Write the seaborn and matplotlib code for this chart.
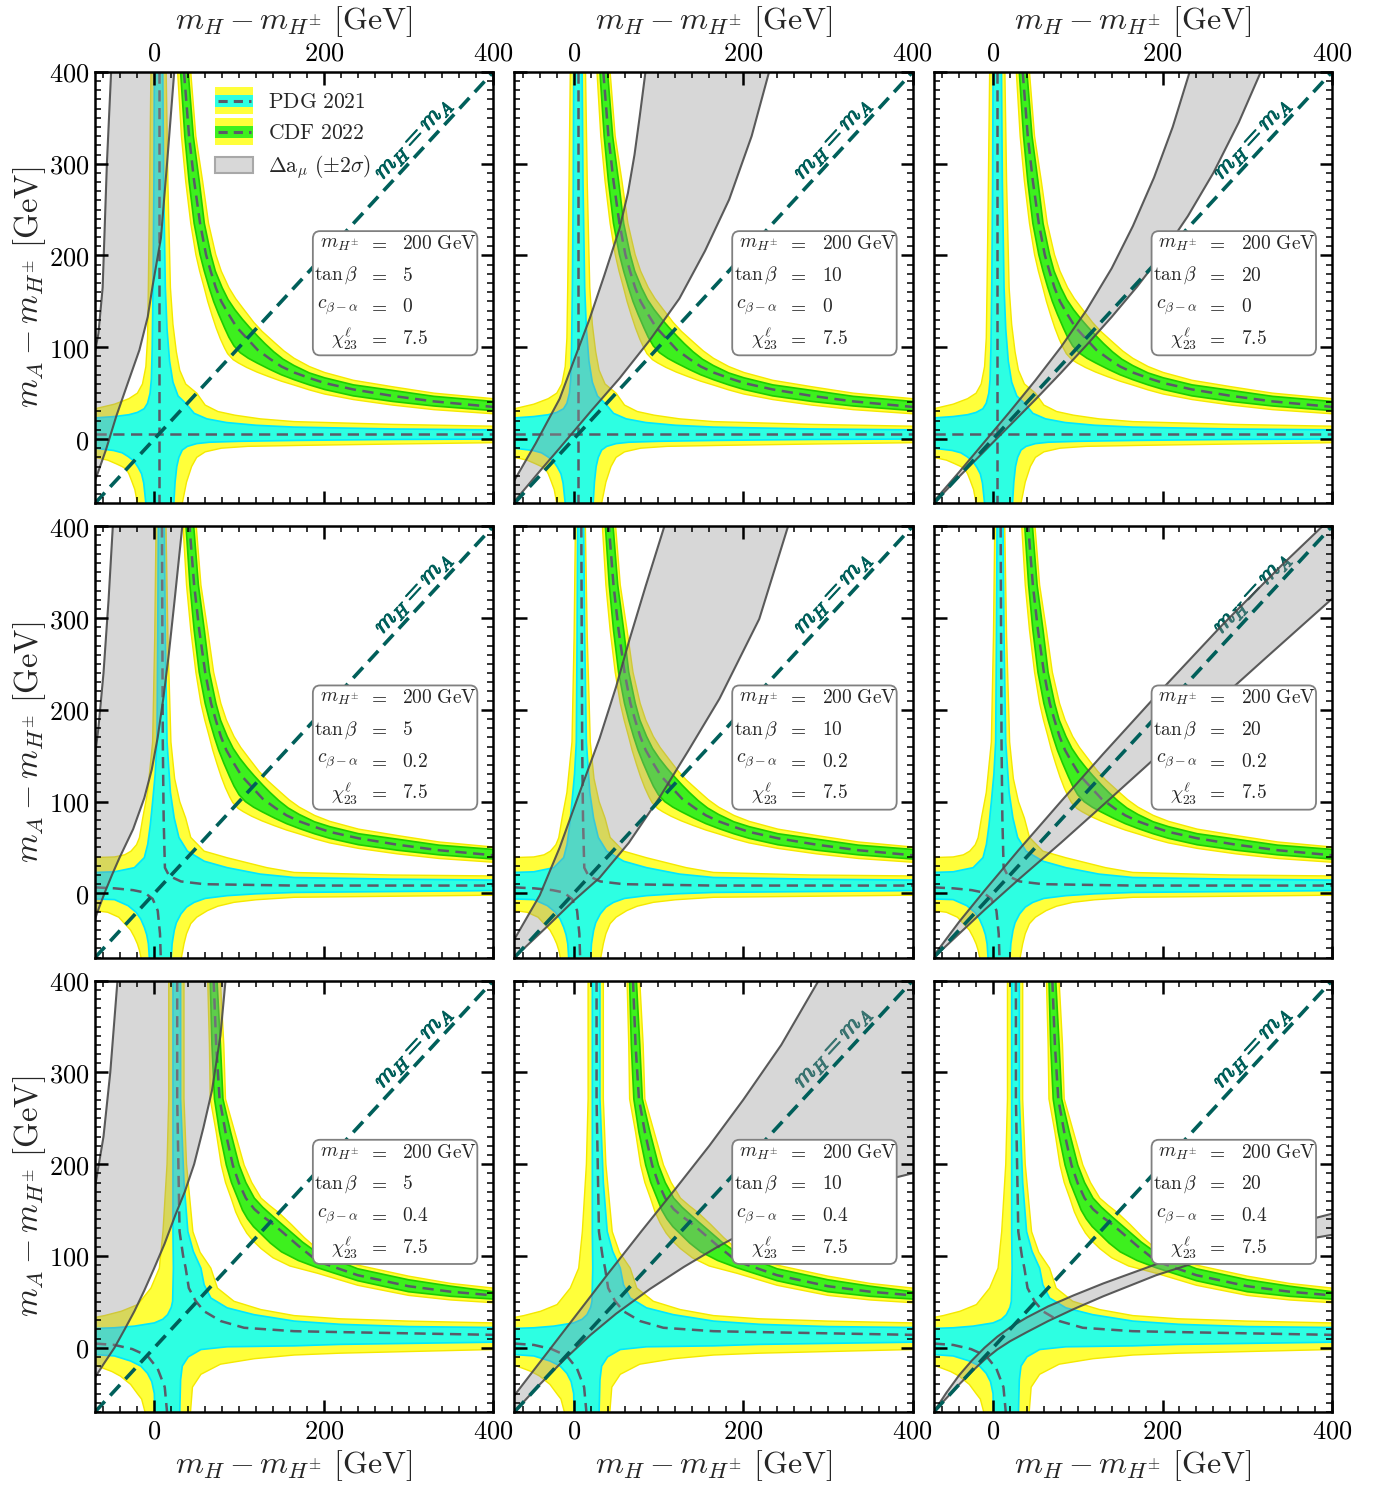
import matplotlib
matplotlib.use("Agg")
import matplotlib.pyplot as plt
import matplotlib.patheffects as pe
import seaborn as sns
from matplotlib.patches import Rectangle, Patch, FancyBboxPatch
from matplotlib.lines import Line2D
from matplotlib.legend_handler import HandlerBase
from matplotlib.ticker import MultipleLocator, FuncFormatter

# ---------------- panel parameters ----------------
M_HPM = "200"
TAN_BETA = ["5", "10", "20"]
C_BETA_ALPHA = ["0", "0.2", "0.4"]
CHI23 = "7.5"
LEGEND_LABELS = [r"$\mathrm{PDG\ 2021}$", r"$\mathrm{CDF\ 2022}$", r"$\Delta\mathrm{a}_{\mu}\ (\pm 2\sigma)$"]

# ---------------- row 1 (c_{beta-alpha}=0) : W-mass bands ----------------
R1_PDG_CYAN_UL = [(-70, 23), (-47, 24.5), (-30, 26.5), (-20, 29), (-12, 33), (-8, 39), (-5, 50), (-3.5, 65), (-2.5, 100), (-1.5, 169), (-0.5, 280), (0, 400)]
R1_PDG_CYAN_UR = [(10, 400), (11, 280), (13, 165), (15, 120), (18, 85), (22, 62), (28, 47), (38, 38), (47, 28), (62, 22), (85, 18), (120, 15), (165, 13), (280, 11), (400, 10)]
R1_PDG_CYAN_LR = [(400, 0), (280, -0.5), (169, -1.5), (100, -2.5), (65, -3.5), (50, -5), (39, -8), (33, -12), (29, -20), (26.5, -30), (24.5, -47), (23, -70)]
R1_PDG_CYAN_LL = [(-10, -70), (-12.5, -48), (-15, -38), (-19, -31), (-24, -24), (-31, -19), (-38, -15), (-48, -12.5), (-70, -10)]
R1_PDG_YEL_UL = [(-70, 33), (-47, 38), (-30, 44), (-20, 50), (-14, 60), (-10, 79), (-8, 110), (-7, 169), (-5.5, 280), (-4, 400)]
R1_PDG_YEL_UR = [(14, 400), (16, 280), (19, 165), (22, 125), (26, 95), (30, 75), (37, 60), (50, 50), (60, 37), (75, 30), (95, 26), (125, 22), (165, 19), (280, 16), (400, 14)]
R1_PDG_YEL_LR = [(400, -4), (280, -5.5), (169, -7), (110, -8), (79, -10), (60, -14), (50, -20), (44, -30), (38, -47), (33, -70)]
R1_PDG_YEL_LL = [(-20, -70), (-23, -55), (-27, -45), (-30, -38), (-33, -33), (-38, -30), (-45, -27), (-55, -23), (-70, -20)]
R1_PDG_MID_A = [(5, 400), (5, 5), (400, 5)]
R1_PDG_MID_B = [(-70, 5), (5, 5), (5, -70)]
R1_CDF_MID = [(35, 400), (41, 330), (47, 281), (54, 235), (61, 201), (66.5, 183), (72.5, 165), (79, 150), (87, 137), (97, 122), (122, 97), (137, 87), (150, 79), (165, 72.5), (183, 66.5), (201, 61), (235, 54), (281, 47), (330, 41), (400, 35)]
R1_CDF_G_IN = [(31, 400), (36, 330), (41, 281), (47, 235), (54, 201), (59, 183), (64.7, 165), (70, 150), (76, 136), (83, 121), (88, 111), (94, 101.5), (101.5, 94), (111, 88), (121, 83), (136, 76), (150, 70), (165, 64.7), (183, 59), (201, 54), (235, 47), (281, 41), (330, 36), (400, 31)]
R1_CDF_G_OUT = [(40, 400), (46, 330), (53, 281), (59, 235), (66.7, 201), (72, 183), (80, 165), (87, 152), (95, 141), (104, 130.5), (112, 122), (122, 112), (130.5, 104), (141, 95), (152, 87), (165, 80), (183, 72), (201, 66.7), (235, 59), (281, 53), (330, 46.5), (400, 41)]
R1_CDF_Y_IN = [(27.5, 400), (32, 330), (37, 281), (43, 235), (49, 201), (53.5, 183), (58.8, 165), (63, 150), (68, 135), (73, 121), (78, 109), (83, 99), (86.5, 93), (93, 86.5), (99, 83), (109, 78), (121, 73), (135, 68), (150, 63), (165, 58.8), (183, 53.5), (201, 49), (235, 43), (281, 37), (330, 32), (400, 27.5)]
R1_CDF_Y_OUT = [(43, 400), (49, 330), (57, 281), (64, 235), (72.5, 201), (79, 183), (88, 165), (96, 153), (105, 142), (117.5, 127), (127, 117.5), (142, 105), (153, 96), (165, 88), (183, 79), (201, 72.5), (235, 64), (281, 57), (330, 50), (400, 44)]

# ---------------- row 2 (c_{beta-alpha}=0.2) ----------------
R2_PDG_CYAN_UL = [(-70, 22.8), (-47, 23.5), (-23.5, 28), (-11.8, 39), (-7.8, 53.5), (-4.7, 75), (-2, 100), (1, 130), (3.1, 165), (4, 280), (4.7, 400)]
R2_PDG_CYAN_UR = [(11.8, 400), (13, 280), (15, 165), (19, 110), (23.5, 82), (29, 61), (39, 46), (59, 35), (86, 28), (125, 21), (165, 17.3), (280, 15.5), (400, 14.5)]
R2_PDG_CYAN_LR = [(400, 3), (165, 1), (120, -0.5), (86, -2.5), (60, -5.5), (47, -9.8), (38, -15), (31.4, -22.4), (26, -32), (23.5, -40.5), (21, -55), (20, -70)]
R2_PDG_CYAN_LL = [(-5.9, -70), (-7, -55), (-9, -45), (-11.8, -37), (-16, -28), (-21.6, -20.6), (-31, -13.4), (-47, -6.8), (-70, -6.1)]
R2_PDG_YEL_UL = [(-70, 39), (-47, 39.7), (-35, 42), (-27.5, 46), (-21, 53), (-17.6, 60.7), (-13.7, 82), (-8, 110), (-2, 165), (0.5, 280), (2, 400)]
R2_PDG_YEL_UR = [(13.8, 400), (16, 280), (19.6, 165), (24, 125), (30, 100), (37, 82), (43, 61), (58.8, 46), (86, 38.8), (133, 28), (165, 22.8), (280, 20), (400, 19)]
R2_PDG_YEL_LR = [(400, -2), (165, -4.3), (120, -7), (94, -9.8), (75, -14), (62.7, -18.8), (50, -26), (43, -33), (38, -44), (35, -55), (32, -70)]
R2_PDG_YEL_LL = [(-15.7, -70), (-17.6, -62), (-20, -55), (-23.5, -47.7), (-28, -40), (-35, -33), (-42, -26), (-55, -20.6), (-70, -18.8)]
R2_PDG_MID_A = [(9, 400), (9.5, 280), (10, 165), (11, 82), (12, 45), (12.5, 28), (17.6, 19), (31.4, 13), (58.8, 10), (165, 8.5), (400, 8.5)]
R2_PDG_MID_B = [(-70, 6.5), (-47, 5.5), (-25, 3.5), (-11.8, 1), (-2, -6), (4, -18.8), (6.7, -44), (7.6, -70)]
R2_CDF_MID = [(41, 406), (47, 336), (53, 287), (60, 241), (67, 207), (72.5, 189), (78.5, 171), (85, 156), (93, 143), (103, 128), (128, 103), (143, 93), (156, 85), (171, 78.5), (189, 72.5), (207, 67), (241, 60), (287, 53), (336, 47), (406, 41)]
R2_CDF_G_IN = [(37, 406), (42, 336), (47, 287), (53, 241), (60, 207), (65, 189), (70.7, 171), (76, 156), (82, 142), (89, 127), (94, 117), (100, 107.5), (107.5, 100), (117, 94), (127, 89), (142, 82), (156, 76), (171, 70.7), (189, 65), (207, 60), (241, 53), (287, 47), (336, 42), (406, 37)]
R2_CDF_G_OUT = [(46, 406), (52, 336), (59, 287), (65, 241), (72.7, 207), (78, 189), (86, 171), (93, 158), (101, 147), (110, 136.5), (118, 128), (128, 118), (136.5, 110), (147, 101), (158, 93), (171, 86), (189, 78), (207, 72.7), (241, 65), (287, 59), (336, 52.5), (406, 47.5)]
R2_CDF_Y_IN = [(33.5, 406), (38, 336), (43, 287), (49, 241), (55, 207), (59.5, 189), (64.8, 171), (69, 156), (74, 141), (79, 127), (84, 115), (89, 105), (92.5, 99), (99, 92.5), (105, 89), (115, 84), (127, 79), (141, 74), (156, 69), (171, 64.8), (189, 59.5), (207, 55), (241, 49), (287, 43), (336, 38), (406, 33.5)]
R2_CDF_Y_OUT = [(49, 406), (55, 336), (63, 287), (70, 241), (78.5, 207), (85, 189), (94, 171), (102, 159), (111, 148), (123.5, 133), (133, 123.5), (148, 111), (159, 102), (171, 94), (189, 85), (207, 78.5), (241, 70), (287, 63), (336, 56), (406, 50)]

# ---------------- row 3 (c_{beta-alpha}=0.4) ----------------
R3_PDG_CYAN_UL = [(-70, 21), (-47, 21.7), (-23.5, 23.5), (0, 27), (10, 31), (15.7, 36), (20, 44), (21.6, 50.6), (22.5, 86.7), (22, 126), (22, 271), (22, 400)]
R3_PDG_CYAN_UR = [(31, 400), (31, 271), (35, 180), (39.6, 126.5), (46, 105), (55, 86.7), (58.8, 68.6), (66.7, 54.2), (86, 43.4), (117.6, 36), (165, 29), (219, 25.5), (300, 23), (400, 22)]
R3_PDG_CYAN_LR = [(400, 6), (219, 3.6), (165, 2), (86, 1), (55, -2), (40, -10), (33, -20), (31, -35), (30, -70)]
R3_PDG_CYAN_LL = [(0.5, -70), (0, -50), (-3, -37), (-8, -28), (-16, -20), (-28, -14.5), (-47, -9), (-70, -7.5)]
R3_PDG_YEL_UL = [(-70, 33), (-58.8, 35), (-39, 39.7), (-19.6, 47), (-4, 65), (5.9, 86.7), (10.2, 126.5), (15, 200), (17, 271), (17, 400)]
R3_PDG_YEL_UR = [(35, 400), (35, 271), (38, 200), (45.5, 126.5), (54, 104), (66.7, 86.7), (74.5, 65), (94, 50.6), (125.5, 41.6), (165, 35), (219, 31.5), (300, 29), (400, 27)]
R3_PDG_YEL_LR = [(400, -2), (219, -6), (165, -8), (118, -12), (78, -18), (55, -29), (45, -43), (42.7, -70)]
R3_PDG_YEL_LL = [(-11, -70), (-15, -56), (-20, -50), (-28, -40), (-40, -31), (-50, -26), (-70, -19)]
R3_PDG_MID_A = [(27, 400), (27, 271), (29.8, 126.5), (34, 100), (37, 86.7), (40.7, 65), (49, 50.6), (58.8, 39.7), (78.4, 29), (105.9, 21.7), (164.7, 18), (219, 17), (400, 14)]
R3_PDG_MID_B = [(-70, 4.5), (-47, 3), (-26, -1.5), (-8, -9), (4, -23), (12.3, -43), (15, -70)]
R3_CDF_MID = [(70, 400), (73, 330), (77, 271), (84, 235), (92.6, 199), (100, 179), (108, 163), (118, 151), (128, 143), (137, 137), (150, 127), (170, 111), (193, 94), (240, 79), (300, 67), (350, 61), (400, 57)]
R3_CDF_G_IN = [(66, 400), (68, 330), (71, 271), (77, 235), (85, 199), (91, 180), (98.4, 163), (104, 150), (110, 140.5), (117, 132), (126, 124), (137, 114), (150, 104.5), (170, 95), (193, 87), (240, 73), (300, 61), (350, 56), (400, 53)]
R3_CDF_G_OUT = [(74, 400), (78, 330), (81, 271), (90, 235), (100, 199), (108, 180), (118, 163), (128, 153), (140, 143), (155, 131), (175, 115), (193, 103), (240, 86), (300, 74), (350, 67), (400, 61)]
R3_CDF_Y_IN = [(63, 400), (65, 330), (66, 271), (73, 235), (79, 199), (84, 180), (90.6, 163), (96, 148), (102, 136), (109, 125), (116, 117), (126, 108), (140, 98), (160, 89), (193, 81), (240, 68), (300, 57), (350, 52), (400, 49)]
R3_CDF_Y_OUT = [(78, 400), (82, 330), (84, 271), (95, 235), (106, 199), (115, 180), (126, 163), (136, 155), (147, 147), (162, 134), (177, 120), (193, 107), (240, 90), (300, 78), (350, 70), (400, 65)]

# ---------------- Delta a_mu (+-2 sigma) band edges, per panel ----------------
GRAY_R1C1_A = [(-51, 400), (-56, 300), (-61, 165), (-66, 115), (-70, 95)]
GRAY_R1C1_B = [(23.5, 400), (15, 300), (7.8, 219), (-2, 167), (-7.8, 133), (-17.6, 97), (-31.4, 60.7), (-45, 24.6), (-57, -11.5), (-66.7, -37), (-70, -45)]
GRAY_R1C2_A = [(-70, -45), (-45, -5), (-16.5, 44), (0, 85), (18.8, 131), (36, 178), (54, 229), (64, 268), (71.8, 310), (78, 352), (84.7, 400)]
GRAY_R1C2_B = [(-70, -68), (-40, -35), (-16.5, -9.8), (20, 30), (54, 66), (90, 108), (124.7, 153), (155, 205), (183.5, 261), (210, 330), (230.6, 400)]
GRAY_R1C3_A = [(-70, -68), (-40, -36), (-10, -3), (20, 30), (50, 64), (80, 100), (110, 140), (140, 186), (165, 232), (190, 285), (212, 340), (232, 400)]
GRAY_R1C3_B = [(-70, -70), (-40, -41), (-10, -13), (20, 15), (50, 43), (80, 72), (110, 102), (140, 133), (170, 166), (200, 202), (230, 243), (260, 290), (290, 345), (316, 400)]
GRAY_R2C1_A = [(-49, 400), (-54, 320), (-60, 240), (-66, 180), (-70, 150)]
GRAY_R2C1_B = [(33, 400), (24, 320), (17, 260), (11, 215), (4, 170), (-3, 135), (-11.8, 104), (-25, 70), (-41, 39), (-50, 20), (-58, 2), (-65, -15), (-70, -28)]
GRAY_R2C2_A = [(-70, -50), (-40, -2), (-16.5, 50), (5, 105), (30.6, 169), (50, 225), (66, 277), (85, 335), (107, 400)]
GRAY_R2C2_B = [(-70, -70), (-30, -35), (0, -8), (30.6, 17), (65, 55), (101, 104), (135, 155), (172, 212), (219, 299), (253, 400)]
GRAY_R2C3_A = [(-70, -68), (-40, -31), (-10, 3), (30, 47), (80, 100), (130, 152), (200, 223), (270, 292), (340, 357), (400, 410)]
GRAY_R2C3_B = [(-70, -70), (-40, -44), (-10, -18), (30, 15), (80, 55), (126, 93), (180, 138), (243, 191), (320, 255), (400, 321)]
GRAY_R3C1_A = [(-43.5, 400), (-52, 300), (-60, 230), (-70, 175)]
GRAY_R3C1_B = [(84, 400), (78, 340), (68, 280), (58, 240), (47, 200), (36, 170), (25, 145), (12, 113), (0, 87), (-12, 62), (-23.5, 39.8), (-35, 20), (-47, 0), (-60, -18), (-70, -32.5)]
GRAY_R3C2_A = [(-70, -52), (-30, -4), (0, 32), (40, 80), (80, 127), (120, 173), (160, 220), (200, 270), (245, 330), (289, 400)]
GRAY_R3C2_B = [(-70, -70), (-40, -40), (-10, -12), (20, 14), (50, 37), (90, 64), (130, 88), (170, 110), (210, 130), (260, 152), (320, 172), (400, 190)]
GRAY_R3C3_A = [(-70, -70), (-55, -49), (-40, -30), (-25, -14), (-10, 0), (5, 12), (20, 22), (40, 33), (65, 45), (95, 57), (130, 70), (192.6, 91), (250, 108), (320, 127), (400, 146)]
GRAY_R3C3_B = [(-70, -70), (-55, -55), (-40, -40), (-25, -26), (-10, -13), (5, -2), (20, 7), (40, 17), (65, 29), (95, 42), (130, 56), (192.6, 79), (250, 96), (320, 110), (400, 123)]

# ---------------- assemble ----------------
ROWS = [
    dict(cyan=[R1_PDG_CYAN_UL, R1_PDG_CYAN_UR, R1_PDG_CYAN_LR, R1_PDG_CYAN_LL],
         yel=[R1_PDG_YEL_UL, R1_PDG_YEL_UR, R1_PDG_YEL_LR, R1_PDG_YEL_LL],
         mids=[R1_PDG_MID_A, R1_PDG_MID_B],
         cdf=(R1_CDF_Y_IN, R1_CDF_G_IN, R1_CDF_MID, R1_CDF_G_OUT, R1_CDF_Y_OUT)),
    dict(cyan=[R2_PDG_CYAN_UL, R2_PDG_CYAN_UR, R2_PDG_CYAN_LR, R2_PDG_CYAN_LL],
         yel=[R2_PDG_YEL_UL, R2_PDG_YEL_UR, R2_PDG_YEL_LR, R2_PDG_YEL_LL],
         mids=[R2_PDG_MID_A, R2_PDG_MID_B],
         cdf=(R2_CDF_Y_IN, R2_CDF_G_IN, R2_CDF_MID, R2_CDF_G_OUT, R2_CDF_Y_OUT)),
    dict(cyan=[R3_PDG_CYAN_UL, R3_PDG_CYAN_UR, R3_PDG_CYAN_LR, R3_PDG_CYAN_LL],
         yel=[R3_PDG_YEL_UL, R3_PDG_YEL_UR, R3_PDG_YEL_LR, R3_PDG_YEL_LL],
         mids=[R3_PDG_MID_A, R3_PDG_MID_B],
         cdf=(R3_CDF_Y_IN, R3_CDF_G_IN, R3_CDF_MID, R3_CDF_G_OUT, R3_CDF_Y_OUT)),
]
GRAY = [[(GRAY_R1C1_A, GRAY_R1C1_B), (GRAY_R1C2_A, GRAY_R1C2_B), (GRAY_R1C3_A, GRAY_R1C3_B)],
        [(GRAY_R2C1_A, GRAY_R2C1_B), (GRAY_R2C2_A, GRAY_R2C2_B), (GRAY_R2C3_A, GRAY_R2C3_B)],
        [(GRAY_R3C1_A, GRAY_R3C1_B), (GRAY_R3C2_A, GRAY_R3C2_B), (GRAY_R3C3_A, GRAY_R3C3_B)]]

# ---------------- style ----------------
XLIM = (-70, 400)
YLIM = (-70, 400)
YELLOW, YELLOW_EDGE = "#FFFF3A", "#F4E800"
CYAN, CYAN_EDGE = "#2DFFE2", "#00E8FF"
GREEN, GREEN_EDGE = "#3DF01E", "#1ECC00"
MIDC = "#5A5A68"
GRAY_FILL, GRAY_ALPHA, GRAY_LINE = "#969696", 0.38, "#4a4a4a"
TEAL = "#005F5A"

sns.set_theme(style="ticks")
plt.rcParams["mathtext.fontset"] = "cm"
plt.rcParams["font.family"] = ["DejaVu Serif"]
plt.rcParams["axes.unicode_minus"] = False


def xs(pts):
    return [p[0] for p in pts]


def ys(pts):
    return [p[1] for p in pts]


def curve(ax, pts, **kw):
    sns.lineplot(x=xs(pts), y=ys(pts), sort=False, estimator=None, ax=ax, **kw)


def fill_poly(ax, pts, **kw):
    ax.fill(xs(pts), ys(pts), **kw)


class BandHandler(HandlerBase):
    def __init__(self, inner):
        super().__init__()
        self.inner = inner

    def create_artists(self, legend, orig_handle, xdescent, ydescent, width, height, fontsize, trans):
        x0, y0 = -xdescent, -ydescent
        outer = Rectangle((x0, y0 - 0.35 * height), width, 1.7 * height, fc=YELLOW, ec="none", transform=trans)
        inner = Rectangle((x0, y0 + 0.1 * height), width, 0.8 * height, fc=self.inner, ec="none", transform=trans)
        line = Line2D([x0 + 0.08 * width, x0 + 0.95 * width], [y0 + 0.5 * height] * 2, color=MIDC, lw=2.2,
                      linestyle=(0, (3, 2)), transform=trans)
        return [outer, inner, line]


fig, axes = plt.subplots(3, 3, figsize=(13.79, 14.93), dpi=100)
fig.subplots_adjust(left=0.0689, right=0.9659, top=0.9518, bottom=0.0543, wspace=0.053, hspace=0.0534)

for r in range(3):
    row = ROWS[r]
    for c in range(3):
        ax = axes[r, c]
        # PDG band (2 sigma yellow, 1 sigma cyan) and CDF band (2 sigma yellow, 1 sigma green)
        fill_poly(ax, sum(row["yel"], []), fc=YELLOW, ec="none", zorder=1)
        yin, gin, mid, gout, yout = row["cdf"]
        fill_poly(ax, yin + yout[::-1], fc=YELLOW, ec="none", zorder=1)
        for cur in row["yel"]:
            curve(ax, cur, color=YELLOW_EDGE, lw=1.0, zorder=1.1)
        for cur in (yin, yout):
            curve(ax, cur, color=YELLOW_EDGE, lw=1.0, zorder=1.1)
        fill_poly(ax, sum(row["cyan"], []), fc=CYAN, ec="none", zorder=1.2)
        for cur in row["cyan"]:
            curve(ax, cur, color=CYAN_EDGE, lw=1.2, zorder=1.3)
        fill_poly(ax, gin + gout[::-1], fc=GREEN, ec="none", zorder=1.2)
        for cur in (gin, gout):
            curve(ax, cur, color=GREEN_EDGE, lw=1.2, zorder=1.3)
        # central values
        for cur in row["mids"] + [mid]:
            curve(ax, cur, color=MIDC, lw=1.8, linestyle=(0, (4.5, 2.6)), zorder=1.5)
        # m_H = m_A label (sits below the Delta a_mu band)
        ax.text(306, 327, r"$m_H = m_A$", rotation=45, transform_rotates_text=True,
                rotation_mode="anchor", ha="center", va="center", color=TEAL, fontsize=18, zorder=1.9,
                path_effects=[pe.withStroke(linewidth=0.8, foreground=TEAL)])
        # Delta a_mu band
        A, B = GRAY[r][c]
        extra = [(XLIM[1], YLIM[1])] if (A[-1][1] >= YLIM[1] and B[-1][0] >= XLIM[1] and B[-1][1] < YLIM[1]) else []
        fill_poly(ax, A + extra + B[::-1], fc=GRAY_FILL, alpha=GRAY_ALPHA, ec="none", zorder=2)
        for cur in (A, B):
            curve(ax, cur, color=GRAY_LINE, lw=1.5, alpha=0.9, zorder=2.1)
        # m_H = m_A diagonal
        ax.axline((0, 0), slope=1, color=TEAL, lw=2.6, linestyle=(0, (4, 2.2)), zorder=3)
        # parameter box
        ax.add_patch(FancyBboxPatch((0.547, 0.343), 0.413, 0.288, boxstyle="round,pad=0,rounding_size=0.018",
                                    transform=ax.transAxes, fc="white", ec="#808080", lw=1.3, zorder=8))
        names = [r"$m_{H^{\pm}}$", r"$\tan\beta$", r"$c_{\beta-\alpha}$", r"$\chi^{\ell}_{23}$"]
        vals = [r"$%s\ \mathrm{GeV}$" % M_HPM, r"$%s$" % TAN_BETA[c], r"$%s$" % C_BETA_ALPHA[r], r"$%s$" % CHI23]
        for k, (nm, vv) in enumerate(zip(names, vals)):
            yy = 0.601 - 0.0733 * k
            ax.text(0.662, yy, nm, transform=ax.transAxes, ha="right", va="center", fontsize=14, zorder=9)
            ax.text(0.709, yy, r"$=$", transform=ax.transAxes, ha="center", va="center", fontsize=14, zorder=9)
            ax.text(0.772, yy, vv, transform=ax.transAxes, ha="left", va="center", fontsize=14, zorder=9)

        # axes styling
        ax.set_xlim(*XLIM)
        ax.set_ylim(*YLIM)
        ax.set_xlabel("")
        ax.set_ylabel("")
        ax.xaxis.set_major_locator(MultipleLocator(200))
        ax.xaxis.set_minor_locator(MultipleLocator(20))
        ax.yaxis.set_major_locator(MultipleLocator(100))
        ax.yaxis.set_minor_locator(MultipleLocator(10))
        fmt = FuncFormatter(lambda v, p: r"$%d$" % round(v))
        ax.xaxis.set_major_formatter(fmt)
        ax.yaxis.set_major_formatter(fmt)
        ax.tick_params(which="both", direction="in", top=True, right=True, bottom=True, left=True,
                       labelsize=19, colors="black")
        ax.tick_params(which="major", length=9, width=1.8)
        ax.tick_params(which="minor", length=4.5, width=1.1)
        ax.tick_params(axis="x", which="major", pad=5)
        ax.tick_params(axis="y", which="major", pad=4)
        for sp in ax.spines.values():
            sp.set_linewidth(1.8)
            sp.set_color("black")
            sp.set_zorder(30)
        ax.xaxis.set_zorder(30)
        ax.yaxis.set_zorder(30)
        ax.tick_params(labelleft=(c == 0), labelbottom=(r == 2), labeltop=(r == 0), labelright=False)
        xlab = r"$m_H - m_{H^{\pm}}\ [\mathrm{GeV}]$"
        if r == 0:
            ax.xaxis.set_label_position("top")
            ax.set_xlabel(xlab, fontsize=23, labelpad=8)
        if r == 2:
            ax.set_xlabel(xlab, fontsize=23, labelpad=3)
        if c == 0:
            ax.set_ylabel(r"$m_A - m_{H^{\pm}}\ [\mathrm{GeV}]$", fontsize=23.5, labelpad=1)

# legend in the first panel
ax0 = axes[0, 0]
h_pdg = Patch(fc=CYAN)
h_cdf = Patch(fc=GREEN)
h_g = Patch(fc="#d8d8d8", ec="#a8a8a8", lw=1.5)
leg = ax0.legend([h_pdg, h_cdf, h_g], LEGEND_LABELS, loc="upper left", bbox_to_anchor=(0.27, 0.985),
                 frameon=False, fontsize=15.5, handlelength=1.75, handleheight=0.75, labelspacing=0.42,
                 handletextpad=0.7, borderaxespad=0.2,
                 handler_map={h_pdg: BandHandler(CYAN), h_cdf: BandHandler(GREEN)})
leg.set_zorder(10)

fig.savefig("out.png", dpi=100)
